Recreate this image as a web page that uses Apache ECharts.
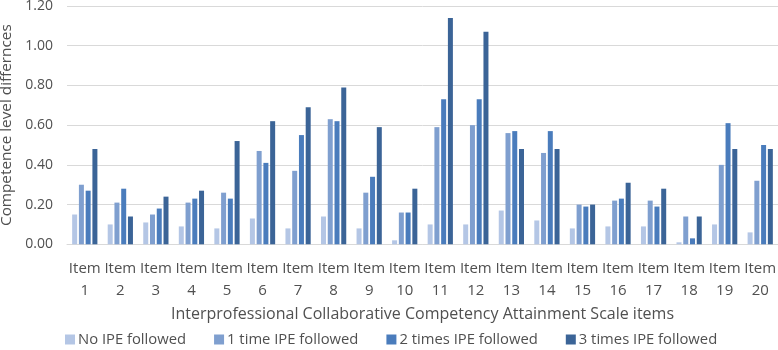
<!DOCTYPE html>
<html><head><meta charset="utf-8">
<script src="https://cdn.jsdelivr.net/npm/echarts@6/dist/echarts.min.js"></script>
<style>html,body{margin:0;padding:0;background:#fff}#c{width:778px;height:350px}</style>
</head><body><div id="c"></div>
<script>
const categories = ["Item 1","Item 2","Item 3","Item 4","Item 5","Item 6","Item 7","Item 8","Item 9","Item 10","Item 11","Item 12","Item 13","Item 14","Item 15","Item 16","Item 17","Item 18","Item 19","Item 20"];
const noIPE    = [0.15,0.10,0.11,0.09,0.08,0.13,0.08,0.14,0.08,0.02,0.10,0.10,0.17,0.12,0.08,0.09,0.09,0.01,0.10,0.06];
const oneIPE   = [0.30,0.21,0.15,0.21,0.26,0.47,0.37,0.63,0.26,0.16,0.59,0.60,0.56,0.46,0.20,0.22,0.22,0.14,0.40,0.32];
const twoIPE   = [0.27,0.28,0.18,0.23,0.23,0.41,0.55,0.62,0.34,0.16,0.73,0.73,0.57,0.57,0.19,0.23,0.19,0.03,0.61,0.50];
const threeIPE = [0.48,0.14,0.24,0.27,0.52,0.62,0.69,0.79,0.59,0.28,1.14,1.07,0.48,0.48,0.20,0.31,0.28,0.14,0.48,0.48];
const seriesNames = ["No IPE followed","1 time IPE followed","2 times IPE followed","3 times IPE followed"];
const yTicks = {min:0, max:1.2, interval:0.2};
const colors = ["#B4C6E5","#7F9FCF","#4A7CBC","#3B6497"];
const font = "Open Sans";
const txt = '#505050';
const chart = echarts.init(document.getElementById('c'));
const dataSets = [noIPE, oneIPE, twoIPE, threeIPE];
chart.setOption({
  animation:false,
  textStyle:{fontFamily:font},
  grid:{left:67, right:0, top:6, bottom:105.7, containLabel:false, outerBoundsMode:'none'},
  legend:{data:seriesNames, top:330, left:60, padding:[2,5], icon:'rect', itemWidth:10, itemHeight:10, itemGap:28,
    textStyle:{fontFamily:font, fontSize:14.8, color:txt, padding:[0,0,0,-2]}},
  xAxis:{type:'category', data:categories,
    name:'Interprofessional Collaborative Competency Attainment Scale items',
    nameLocation:'middle', nameGap:62, nameTextStyle:{fontFamily:font, fontSize:16, color:txt},
    axisLine:{lineStyle:{color:'#D9D9D9'}}, axisTick:{show:false},
    axisLabel:{interval:0, margin:13, lineHeight:22, fontSize:15, color:txt, fontFamily:font,
      formatter:v=>v.replace(' ','\n')}},
  yAxis:{type:'value', min:yTicks.min, max:yTicks.max, interval:yTicks.interval,
    name:'Competence level differnces', nameLocation:'middle', nameGap:45,
    nameTextStyle:{fontFamily:font, fontSize:15.3, color:txt},
    axisLabel:{formatter:v=>v.toFixed(2), fontSize:14, color:txt, margin:14, fontFamily:font},
    splitLine:{lineStyle:{color:'#D9D9D9'}}, axisLine:{show:false}, axisTick:{show:false}},
  series: dataSets.map((d,i)=>({name:seriesNames[i], type:'bar', data:d, barWidth:5, barGap:'35%',
    itemStyle:{color:colors[i]}}))
});
</script></body></html>
